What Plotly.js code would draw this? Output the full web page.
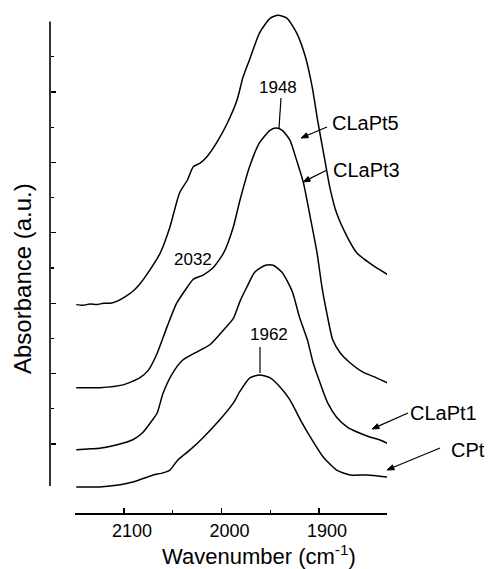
<!DOCTYPE html>
<html>
<head>
<meta charset="utf-8">
<script src="https://cdn.plot.ly/plotly-3.0.1.min.js"></script>
<style>html,body{margin:0;padding:0;background:#fff;}#chart{width:488px;height:569px;}</style>
</head>
<body>
<div id="chart"></div>
<script>
// Wavenumber (cm-1) and absorbance (a.u., offset)
const wnCLaPt5 = [2149, 2142, 2135, 2128, 2121, 2114, 2107, 2099, 2091, 2084, 2076, 2063, 2053, 2043, 2035, 2029, 2022, 2015, 2005, 1994, 1984, 1978, 1971, 1961, 1950, 1942, 1933, 1923, 1914, 1907, 1901, 1894, 1889, 1882, 1871, 1861, 1854, 1848, 1843, 1837, 1829];
const absCLaPt5 = [2.98, 2.97, 2.99, 2.98, 3.00, 3.00, 3.03, 3.09, 3.17, 3.27, 3.42, 3.71, 4.08, 4.57, 4.75, 4.94, 4.99, 5.08, 5.28, 5.56, 5.89, 6.21, 6.47, 6.84, 7.05, 7.09, 7.05, 6.84, 6.50, 6.07, 5.56, 5.03, 4.65, 4.28, 3.94, 3.71, 3.63, 3.57, 3.52, 3.47, 3.40];

const wnCLaPt3 = [2149, 2125, 2101, 2084, 2075, 2066, 2056, 2046, 2035, 2029, 2019, 2009, 1998, 1988, 1981, 1971, 1961, 1950, 1944, 1938, 1930, 1923, 1916, 1909, 1902, 1897, 1892, 1886, 1878, 1868, 1855, 1841, 1830];
const absCLaPt3 = [1.80, 1.80, 1.84, 1.94, 2.05, 2.29, 2.66, 3.00, 3.23, 3.34, 3.40, 3.50, 3.71, 4.08, 4.47, 4.95, 5.28, 5.46, 5.49, 5.46, 5.32, 5.03, 4.71, 4.22, 3.71, 3.23, 2.86, 2.48, 2.29, 2.15, 2.02, 1.94, 1.87];

const wnCLaPt1 = [2149, 2137, 2125, 2107, 2091, 2081, 2071, 2066, 2060, 2050, 2040, 2025, 2012, 1998, 1988, 1981, 1974, 1966, 1955, 1947, 1938, 1932, 1927, 1920, 1912, 1906, 1899, 1891, 1882, 1871, 1861, 1848, 1838, 1830];
const absCLaPt1 = [0.92, 0.93, 0.94, 0.99, 1.06, 1.16, 1.34, 1.44, 1.72, 2.01, 2.19, 2.31, 2.41, 2.62, 2.78, 3.03, 3.23, 3.44, 3.54, 3.54, 3.44, 3.30, 3.15, 2.80, 2.48, 2.15, 1.87, 1.58, 1.38, 1.24, 1.17, 1.10, 1.06, 1.01];

const wnCPt = [2149, 2125, 2104, 2091, 2076, 2070, 2060, 2053, 2045, 2032, 2019, 2002, 1988, 1981, 1971, 1961, 1950, 1940, 1930, 1919, 1909, 1896, 1882, 1868, 1851, 1830];
const absCPt = [0.39, 0.39, 0.42, 0.46, 0.53, 0.56, 0.59, 0.63, 0.77, 0.92, 1.09, 1.34, 1.58, 1.75, 1.94, 1.98, 1.94, 1.81, 1.63, 1.34, 1.10, 0.82, 0.63, 0.56, 0.56, 0.53];

const xTickVals = [2100, 2000, 1900];
const xMinorVals = [2150, 2050, 1950];
const yTickVals = [1, 2, 3, 4, 5, 6];
const yMinorVals = [1.5, 2.5, 3.5, 4.5, 5.5, 6.5];

const seriesNames = ['CLaPt5', 'CLaPt3', 'CLaPt1', 'CPt'];
const seriesX = [wnCLaPt5, wnCLaPt3, wnCLaPt1, wnCPt];
const seriesY = [absCLaPt5, absCLaPt3, absCLaPt1, absCPt];

const traces = seriesNames.map((n, i) => ({
  type: 'scatter', mode: 'lines', name: n,
  x: seriesX[i], y: seriesY[i],
  line: {color: '#000', width: 1.5, shape: 'spline', smoothing: 0.6},
  hoverinfo: 'skip', showlegend: false
}));

// plot area: x 50..387, y 10..513 (pixels)
const L = 50, R = 387, T = 10, B = 513;
const px = v => (v - L) / (R - L);
const py = v => (B - v) / (B - T);
const FONT = 'Liberation Sans, Arial, sans-serif';

function label(text, cx, cy, size, angle) {
  return {xref: 'paper', yref: 'paper', x: px(cx), y: py(cy), text: text, showarrow: false,
          textangle: angle || 0, borderpad: 0,
          xanchor: 'center', yanchor: 'middle', font: {family: FONT, size: size, color: '#000'}};
}
function leader(x0, y0, x1, y1) {
  return {type: 'line', xref: 'paper', yref: 'paper', x0: px(x0), y0: py(y0), x1: px(x1), y1: py(y1),
          line: {color: '#000', width: 1.2}};
}
function arrowShapes(hx, hy, tx, ty) {
  const dx = hx - tx, dy = hy - ty, len = Math.hypot(dx, dy);
  const ux = dx / len, uy = dy / len;
  const hl = 7, hw = 2.6;
  const bx = hx - hl * ux, by = hy - hl * uy;
  const nx = -uy, ny = ux;
  const p1x = bx + hw * nx, p1y = by + hw * ny, p2x = bx - hw * nx, p2y = by - hw * ny;
  return [
    leader(tx, ty, bx, by),
    {type: 'path', xref: 'paper', yref: 'paper',
     path: `M ${px(hx)} ${py(hy)} L ${px(p1x)} ${py(p1y)} L ${px(p2x)} ${py(p2y)} Z`,
     fillcolor: '#000', line: {color: '#000', width: 1}}
  ];
}

const layout = {
  width: 488, height: 569,
  margin: {l: L, r: 488 - R, t: T, b: 569 - B, pad: 0},
  paper_bgcolor: '#fff', plot_bgcolor: '#fff',
  font: {family: FONT, color: '#000'},
  showlegend: false,
  xaxis: {
    domain: [px(75), 1], range: [2150.3, 1830.3], anchor: 'free', position: 0,
    showline: true, linecolor: '#000', linewidth: 1.5, showgrid: false, zeroline: false,
    ticks: 'inside', ticklen: 5, tickwidth: 1.3, tickcolor: '#000',
    tickmode: 'array', tickvals: xTickVals, ticktext: xTickVals.map(String),
    minor: {tickmode: 'array', tickvals: xMinorVals, ticks: 'inside', ticklen: 3, tickwidth: 1.2, tickcolor: '#000', showgrid: false},
    tickfont: {family: FONT, size: 18, color: '#000'},
    ticklabelshift: -8, ticklabelstandoff: 1,
    automargin: false, fixedrange: true
  },
  yaxis: {
    domain: [0, 1], range: [0.0199, 7.165], anchor: 'free', position: 0,
    showline: false, showgrid: false, zeroline: false, showticklabels: false,
    ticks: 'inside', ticklen: 5, tickwidth: 1.3, tickcolor: '#000',
    tickmode: 'array', tickvals: yTickVals,
    minor: {tickmode: 'array', tickvals: yMinorVals, ticks: 'inside', ticklen: 3, tickwidth: 1.2, tickcolor: '#000', showgrid: false},
    automargin: false, fixedrange: true
  },
  shapes: [
    {type: 'line', xref: 'paper', yref: 'y', x0: 0, x1: 0, y0: 0.403, y1: 7.0, line: {color: '#000', width: 1.6}},
    leader(281, 98, 279, 128),
    leader(260, 347, 260, 373),
    ...arrowShapes(301, 138, 327, 127),
    ...arrowShapes(303, 182, 327, 170),
    ...arrowShapes(372, 429, 408, 413),
    ...arrowShapes(387, 470, 440, 448)
  ],
  annotations: [
    label('Wavenumber (cm<sup>-1</sup>)', 259, 554.5, 22),
    label('Absorbance (a.u.)', 22, 279, 24, -90),
    label('1948', 277.5, 88, 17),
    label('2032', 193, 259, 17),
    label('1962', 269, 335, 17),
    label('CLaPt5', 365, 123, 20),
    label('CLaPt3', 366, 170, 20),
    label('CLaPt1', 443, 413, 20),
    label('CPt', 468, 450, 20)
  ]
};

Plotly.newPlot('chart', traces, layout, {staticPlot: true, displayModeBar: false});
</script>
</body>
</html>
